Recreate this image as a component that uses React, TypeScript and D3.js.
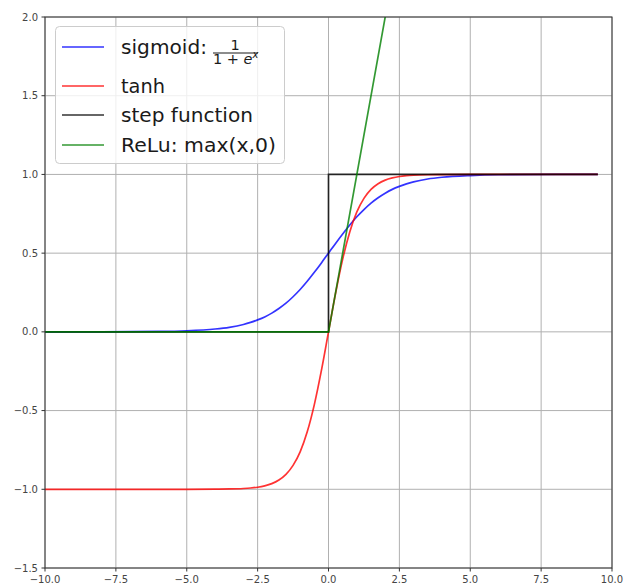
import React from "react";
import * as d3 from "d3";

const xs = [-10, -8, -6, -5, -4, -3.5, -3, -2.75, -2.5, -2.25, -2, -1.75, -1.5, -1.25, -1, -0.75, -0.5, -0.25, 0, 0.25, 0.5, 0.75, 1, 1.25, 1.5, 1.75, 2, 2.25, 2.5, 2.75, 3, 3.5, 4, 5, 6, 8, 9.5];
const sigmoidVals = [0.00005, 0.0003, 0.0025, 0.0067, 0.018, 0.029, 0.047, 0.06, 0.076, 0.095, 0.119, 0.148, 0.182, 0.223, 0.269, 0.321, 0.378, 0.438, 0.5, 0.562, 0.622, 0.679, 0.731, 0.777, 0.818, 0.852, 0.881, 0.905, 0.924, 0.94, 0.953, 0.971, 0.982, 0.993, 0.998, 1.0, 1.0];
const tanhVals = [-1, -1, -1, -1, -0.999, -0.998, -0.995, -0.992, -0.987, -0.978, -0.964, -0.941, -0.905, -0.848, -0.762, -0.635, -0.462, -0.245, 0, 0.245, 0.462, 0.635, 0.762, 0.848, 0.905, 0.941, 0.964, 0.978, 0.987, 0.992, 0.995, 0.998, 0.999, 1, 1, 1, 1];
const stepX = [-10, 0, 0, 9.5];
const stepVals = [0, 0, 1, 1];
const reluX = [-10, 0, 9.5];
const reluVals = [0, 0, 9.5];

const xTicks = [-10, -7.5, -5, -2.5, 0, 2.5, 5, 7.5, 10];
const yTicks = [-1.5, -1.0, -0.5, 0.0, 0.5, 1.0, 1.5, 2.0];
const legendLabels = ["sigmoid:", "tanh", "step function", "ReLu: max(x,0)"];

const W = 624, H = 586;
const L = 45, R = 612, T = 17, B = 568;

const fmt = (v: number) => {
  const s = v.toFixed(1);
  return v < 0 ? "\u2212" + s.slice(1) : s;
};

export default function App() {
  const x = d3.scaleLinear().domain([-10, 10]).range([L, R]);
  const y = d3.scaleLinear().domain([-1.5, 2]).range([B, T]);
  const smooth = d3.line<[number, number]>().x(d => x(d[0])).y(d => y(d[1])).curve(d3.curveMonotoneX);
  const straight = d3.line<[number, number]>().x(d => x(d[0])).y(d => y(d[1]));
  const zip = (a: number[], b: number[]) => a.map((v, i) => [v, b[i]] as [number, number]);

  const font = "'DejaVu Sans', sans-serif";
  const colors = ["#0000ff", "#ff0000", "#000000", "#008000"];
  const widths = [86, 44, 132, 155];
  const rowY = [47, 86, 115, 145];

  return (
    <svg width={W} height={H} style={{ position: "absolute", left: 0, top: 0, background: "#fff" }} fontFamily={font}>
      <defs>
        <clipPath id="plot">
          <rect x={L} y={T} width={R - L} height={B - T} />
        </clipPath>
      </defs>
      <rect x={0} y={0} width={W} height={H} fill="#fff" />
      {xTicks.map(t => (
        <line key={"gx" + t} x1={x(t)} x2={x(t)} y1={T} y2={B} stroke="#b0b0b0" strokeWidth={1} />
      ))}
      {yTicks.map(t => (
        <line key={"gy" + t} x1={L} x2={R} y1={y(t)} y2={y(t)} stroke="#b0b0b0" strokeWidth={1} />
      ))}
      <g clipPath="url(#plot)" fill="none" strokeWidth={1.7}>
        <path d={smooth(zip(xs, sigmoidVals)) || ""} stroke="#0000ff" strokeOpacity={0.8} />
        <path d={smooth(zip(xs, tanhVals)) || ""} stroke="#ff0000" strokeOpacity={0.8} />
        <path d={straight(zip(stepX, stepVals)) || ""} stroke="#000000" strokeOpacity={0.8} />
        <path d={straight(zip(reluX, reluVals)) || ""} stroke="#008000" strokeOpacity={0.8} />
      </g>
      <rect x={L} y={T} width={R - L} height={B - T} fill="none" stroke="#333" strokeWidth={1} />
      {xTicks.map(t => (
        <g key={"tx" + t}>
          <line x1={x(t)} x2={x(t)} y1={B} y2={B + 3.5} stroke="#333" />
          <text x={x(t)} y={B + 15} fontSize={10} fill="#444" textAnchor="middle">{fmt(t)}</text>
        </g>
      ))}
      {yTicks.map(t => (
        <g key={"ty" + t}>
          <line x1={L - 3.5} x2={L} y1={y(t)} y2={y(t)} stroke="#333" />
          <text x={L - 7} y={y(t) + 3.5} fontSize={10} fill="#444" textAnchor="end">{fmt(t)}</text>
        </g>
      ))}
      <rect x={55.5} y={26.5} width={229} height={137} rx={4} fill="#fff" fillOpacity={0.8} stroke="#cccccc" />
      {legendLabels.map((lab, i) => (
        <g key={lab}>
          <line x1={62} x2={104} y1={rowY[i]} y2={rowY[i]} stroke={colors[i]} strokeOpacity={0.8} strokeWidth={1.7} />
          <text x={121} y={rowY[i] + 7} fontSize={20} fill="#1a1a1a" textLength={widths[i]} lengthAdjust="spacingAndGlyphs">{lab}</text>
        </g>
      ))}
      <g fill="#1a1a1a">
        <text x={235} y={49.5} fontSize={14.5} textAnchor="middle">1</text>
        <line x1={213} x2={258} y1={53} y2={53} stroke="#1a1a1a" strokeWidth={1} />
        <text x={213} y={64} fontSize={14.5}>
          <tspan>1 + </tspan>
          <tspan fontStyle="italic">e</tspan>
          <tspan fontStyle="italic" fontSize={10} dy={-6}>x</tspan>
        </text>
      </g>
    </svg>
  );
}
